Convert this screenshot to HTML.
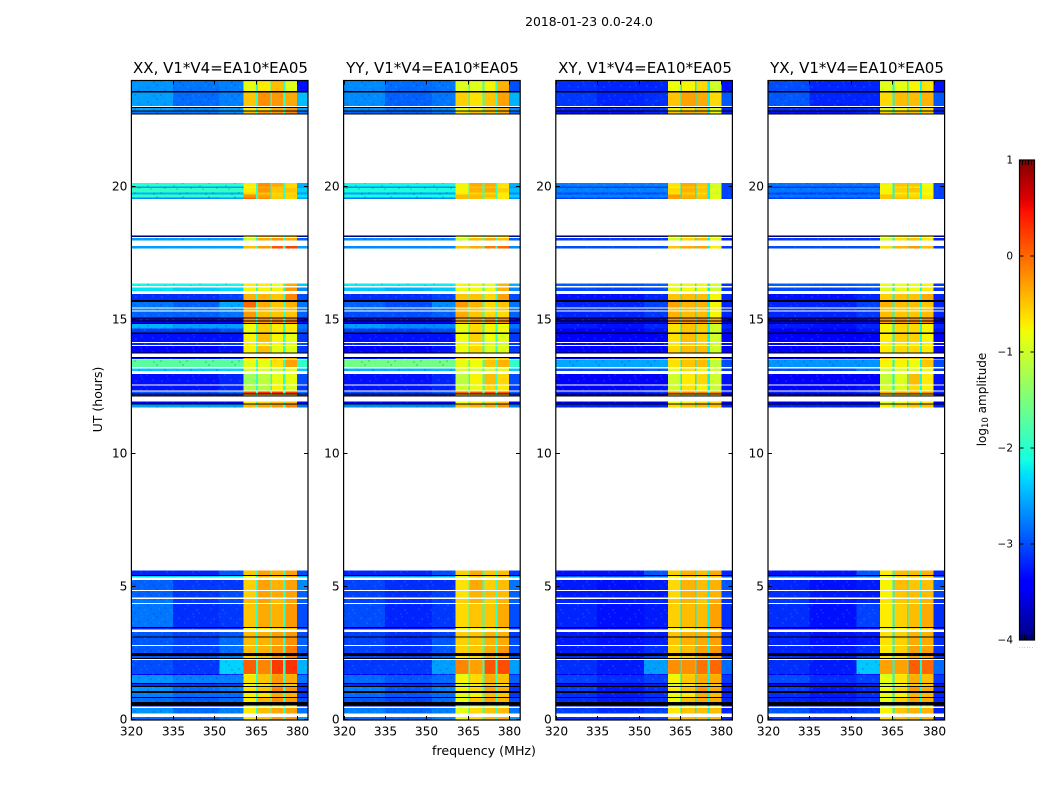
<!DOCTYPE html>
<html lang="en">
<head>
<meta charset="utf-8">
<title>2018-01-23 amplitude waterfall</title>
<style>
html,body{margin:0;padding:0;background:#fff;}
svg{display:block;}
text{font-family:"DejaVu Sans","Liberation Sans",sans-serif;fill:#000;}
</style>
</head>
<body>
<svg id="figure" xmlns="http://www.w3.org/2000/svg" width="1050" height="800" viewBox="0 0 1050 800" shape-rendering="crispEdges">
<defs>
<pattern id="speckle" width="26" height="14" patternUnits="userSpaceOnUse">
<rect x="0" y="0" width="2" height="2" fill="#00108a" fill-opacity="0.16"/>
<rect x="5" y="2" width="2" height="2" fill="#30e0ff" fill-opacity="0.14"/>
<rect x="11" y="0" width="2" height="2" fill="#30e0ff" fill-opacity="0.10"/>
<rect x="17" y="3" width="2" height="2" fill="#00108a" fill-opacity="0.14"/>
<rect x="22" y="1" width="2" height="2" fill="#30e0ff" fill-opacity="0.12"/>
<rect x="2" y="6" width="2" height="2" fill="#30e0ff" fill-opacity="0.12"/>
<rect x="8" y="5" width="2" height="2" fill="#00108a" fill-opacity="0.16"/>
<rect x="14" y="7" width="2" height="2" fill="#30e0ff" fill-opacity="0.14"/>
<rect x="20" y="6" width="2" height="2" fill="#00108a" fill-opacity="0.12"/>
<rect x="4" y="10" width="2" height="2" fill="#00108a" fill-opacity="0.14"/>
<rect x="10" y="11" width="2" height="2" fill="#30e0ff" fill-opacity="0.12"/>
<rect x="16" y="10" width="2" height="2" fill="#30e0ff" fill-opacity="0.10"/>
<rect x="23" y="11" width="2" height="2" fill="#00108a" fill-opacity="0.16"/>
</pattern>
<linearGradient id="jet-gradient" x1="0" y1="1" x2="0" y2="0"></linearGradient>
</defs>
<rect width="1050" height="800" fill="#fff"/>
<g id="panels"></g>
<g id="colorbar"></g>
<g shape-rendering="auto">
<text x="589" y="26" font-size="12.4" text-anchor="middle">2018-01-23 0.0-24.0</text>
<text x="220.5" y="73" font-size="15" text-anchor="middle">XX, V1*V4=EA10*EA05</text>
<text x="432.5" y="73" font-size="15" text-anchor="middle">YY, V1*V4=EA10*EA05</text>
<text x="645" y="73" font-size="15" text-anchor="middle">XY, V1*V4=EA10*EA05</text>
<text x="857" y="73" font-size="15" text-anchor="middle">YX, V1*V4=EA10*EA05</text>
<text transform="translate(102,399.5) rotate(-90)" font-size="12.5" text-anchor="middle">UT (hours)</text>
<text x="484" y="755" font-size="12.6" text-anchor="middle">frequency (MHz)</text>
<text transform="translate(986,399.5) rotate(-90)" font-size="12" text-anchor="middle">log<tspan font-size="8.5" dy="2">10</tspan><tspan dy="-2"> amplitude</tspan></text>
</g>
</svg>
<script>
// Time ranges (hours UT) of each observed band, bottom to top
const bandStart = [0,.25,.5,.68,.87,1.08,1.28,1.39,1.68,1.72,2.33,2.51,2.81,3.13,3.4,3.49,4.4,4.59,4.88,5.34,5.45,11.72,11.88,12.17,12.25,12.37,12.59,13.09,13.24,13.54,13.8,14.07,14.19,14.54,14.7,14.9,15,15.11,15.37,15.48,15.77,16.1,16.28,17.7,18,18.12,19.55,19.6,19.72,19.8,19.97,20.03,22.76,22.88,23.05,23.6];
const bandEnd = [.12,.45,.55,.84,1.01,1.25,1.35,1.68,1.72,2.25,2.4,2.77,3.1,3.3,3.45,4.36,4.54,4.84,5.25,5.43,5.62,11.84,11.96,12.22,12.32,12.55,12.98,13.2,13.52,13.6,14.04,14.14,14.48,14.7,14.87,15,15.08,15.33,15.44,15.69,15.99,16.23,16.38,17.78,18.09,18.15,19.6,19.72,19.8,19.97,20.03,20.16,22.85,22.97,23.55,24];
// Flagged (black) time ranges, hours UT
const flaggedStart = [.55,.84,1.01,1.25,1.35,2.3,2.4,3.1,3.45,5.43,11.84,12.15,12.22,13.6,13.76,14.48,14.87,14.96,15.08,15.69,18.15,22.72,22.85,22.97,23.55];
const flaggedEnd = [.68,.87,1.08,1.28,1.39,2.33,2.51,3.13,3.49,5.45,11.88,12.17,12.25,13.63,13.8,14.54,14.9,15,15.11,15.77,18.19,22.76,22.88,23,23.6];
// Frequency columns, MHz
const channelStart = [320,335,352,360.6,365.8,371,375.8,380];
const channelEnd = [335,352,360.6,365.2,370.4,375,380,384];
const gapStart = [365.2,370.4,375];
const gapEnd = [365.8,371,375.8];
// log10 amplitude, one row per band, one value per frequency column
const xxLevels = [
[-2.85,-2.85,-2.7,-.7,-.5,-.3,-.25,-2.6],[-2.65,-2.85,-2.75,-.7,-.45,-.35,-.3,-2.8],[-3.5,-3.5,-3.4,-1.2,-1,-.9,-.9,-3.3],[-2.85,-2.95,-2.85,-.7,-.4,-.2,-.25,-3],
[-2.75,-2.85,-2.85,-.75,-.65,-.35,-.4,-3.1],[-2.65,-2.85,-2.75,-.65,-.5,-.15,-.25,-3.1],[-3.15,-3.15,-3.1,-.8,-.65,-.4,-.5,-3.2],[-2.65,-2.75,-2.75,-.65,-.5,-.25,-.35,-2.8],
[-3.4,-3.4,-3.2,-.8,-.5,-.35,-.45,-3.2],[-3,-3.1,-2.35,.05,-.15,.25,.3,-2.5],[-2.95,-2.95,-2.75,-.55,-.5,-.25,-.15,-2.9],[-2.95,-3.05,-2.85,-.45,-.4,-.25,-.1,-2.9],
[-2.95,-3.05,-2.85,-.45,-.4,-.3,-.2,-2.9],[-2.95,-3.05,-2.95,-.45,-.4,-.3,-.25,-3],[-3.2,-3.2,-3.2,-.75,-.65,-.6,-.5,-3.1],[-2.8,-3.15,-3.1,-.5,-.35,-.4,-.25,-3],
[-2.8,-3.1,-3,-.45,-.3,-.45,-.3,-2.9],[-2.9,-3.1,-3,-.55,-.3,-.35,-.3,-2.9],[-2.9,-3.1,-3.1,-.55,-.3,-.4,-.3,-2.7],[-2.3,-2.3,-2.2,-.8,-.4,-.5,-.4,-2.4],
[-3.2,-3.2,-2.95,-.5,-.3,-.4,-.3,-3],[-2.6,-2.6,-2.6,-.45,-.35,-.25,-.15,-2.8],[-3.5,-3.5,-3.5,-.7,-.6,-.5,-.45,-3.4],[-3.2,-3.2,-3.2,-.45,-.45,-.35,-.35,-3],
[-2.9,-2.9,-2.8,.2,.3,.3,.25,-2.8],[-3.3,-3.3,-3.2,-1.15,-1.15,-.75,-.95,-3.1],[-3.3,-3.3,-3.2,-1.3,-1.1,-.85,-.85,-3],[-2.4,-2.4,-2.35,-.95,-.95,-1.05,-.85,-2.4],
[-1.7,-1.7,-1.7,-.85,-.85,-.65,-.3,-1.95],[-3.3,-3.3,-3.2,-.35,-.25,-.35,-.35,-3],[-3.4,-3.4,-3.3,-.75,-.45,-.85,-.9,-3.1],[-3.2,-3.2,-3.1,-.7,-.65,-.8,-.9,-3],
[-3.3,-3.3,-3.3,-.75,-.45,-.75,-.85,-3.1],[-3.1,-3.1,-3,-.8,-.55,-.7,-.7,-2.9],[-2.5,-2.6,-2.6,-.8,-.55,-.7,-.7,-2.8],[-3.5,-3.5,-3.4,-.3,-.25,-.15,-.15,-3.3],
[-3.6,-3.6,-3.5,-.25,-.15,-.1,-.1,-3.4],[-2.9,-2.9,-2.8,-.25,-.45,-.5,-.5,-2.9],[-2.7,-2.8,-2.7,-.45,-.45,-.5,-.45,-2.8],[-2.8,-2.9,-2.55,0,-.35,-.5,-.4,-2.8],
[-3.15,-3.15,-3.05,-.4,-.4,-.5,-.15,-3],[-2.25,-2.35,-2.3,-.75,-.75,-.75,-.25,-2.7],[-2.15,-2.15,-2.15,-.7,-.7,-.8,-.35,-2.4],[-2.6,-2.6,-2.6,-.45,-.25,.1,.2,-2.6],
[-2.6,-2.6,-2.6,-1,-.35,-.25,-.35,-2.9],[-3.5,-3.5,-3.4,-.8,-.5,-.4,-.4,-3.3],[-2.7,-2.7,-2.6,0,-.2,-.5,-.6,-2.6],[-1.95,-1.95,-1.95,-.2,-.3,-.55,-.55,-2.25],
[-2.5,-2.5,-2.5,-.6,-.5,-.6,-.6,-2.6],[-1.95,-1.95,-1.95,-.7,-.25,-.5,-.5,-2.35],[-2.6,-2.6,-2.6,-.8,-.35,-.5,-.6,-2.6],[-2,-2,-2,-.7,-.2,-.35,-.6,-2.5],
[-2.8,-2.8,-2.7,-.45,-.25,-.25,-.15,-2.8],[-2.6,-2.7,-2.6,-.7,-.6,-.35,-.25,-2.6],[-2.6,-2.85,-2.75,-.5,-.2,-.25,-.35,-2.45],[-2.65,-2.8,-2.75,-.85,-.7,-.45,-.9,-3.3]];
const yyLevels = [
[-2.85,-2.85,-2.7,-.8,-.6,-.45,-.4,-2.6],[-2.75,-2.85,-2.75,-.85,-.6,-.5,-.45,-2.8],[-3.5,-3.5,-3.4,-1.3,-1.1,-1,-1,-3.3],[-2.95,-3.05,-2.85,-.85,-.5,-.3,-.4,-3],
[-2.85,-2.95,-2.85,-.85,-.75,-.45,-.5,-3.1],[-2.75,-2.95,-2.75,-.75,-.6,-.3,-.4,-3.1],[-3.2,-3.2,-3.1,-.95,-.75,-.5,-.6,-3.2],[-2.85,-2.95,-2.85,-.75,-.6,-.35,-.45,-2.9],
[-3.4,-3.4,-3.2,-.95,-.6,-.45,-.55,-3.2],[-3.1,-3.1,-2.6,-.15,-.3,.1,.15,-2.6],[-3.05,-3.05,-2.85,-.65,-.6,-.35,-.35,-3],[-3.05,-3.15,-2.95,-.55,-.5,-.35,-.25,-3],
[-3.05,-3.15,-2.95,-.55,-.5,-.4,-.35,-3],[-3.05,-3.15,-3.05,-.55,-.5,-.4,-.4,-3.1],[-3.3,-3.3,-3.2,-.85,-.75,-.7,-.6,-3.1],[-3,-3.2,-3.1,-.6,-.5,-.5,-.35,-3],
[-3.05,-3.15,-3.05,-.55,-.4,-.55,-.4,-2.9],[-3.05,-3.15,-3.05,-.65,-.4,-.45,-.45,-2.9],[-3.05,-3.15,-3.15,-.65,-.35,-.55,-.45,-2.8],[-2.6,-2.6,-2.5,-.85,-.5,-.6,-.5,-2.5],
[-3.2,-3.2,-3,-.55,-.35,-.5,-.45,-3.1],[-2.7,-2.7,-2.7,-.5,-.4,-.35,-.25,-2.8],[-3.5,-3.5,-3.5,-.8,-.7,-.6,-.5,-3.4],[-3.2,-3.2,-3.2,-.5,-.5,-.45,-.45,-3.1],
[-3,-3,-2.9,.05,.15,.15,.1,-2.9],[-3.3,-3.3,-3.2,-1,-.85,-.6,-.7,-3.1],[-3.3,-3.3,-3.2,-1.1,-.75,-.45,-.6,-3],[-2.5,-2.5,-2.45,-.95,-.95,-.95,-.85,-2.4],
[-1.55,-1.55,-1.55,-.85,-.8,-.5,-.4,-1.95],[-3.3,-3.3,-3.2,-.4,-.35,-.4,-.45,-3.1],[-3.4,-3.4,-3.3,-.8,-.6,-.9,-.9,-3.1],[-3.2,-3.2,-3.1,-.8,-.7,-.9,-1,-3.1],
[-3.3,-3.3,-3.3,-.8,-.55,-.8,-.9,-3.1],[-3.1,-3.1,-3,-.85,-.6,-.75,-.8,-3],[-2.6,-2.7,-2.7,-.85,-.6,-.75,-.8,-2.8],[-3.5,-3.5,-3.4,-.4,-.35,-.25,-.25,-3.3],
[-3.6,-3.6,-3.5,-.35,-.25,-.15,-.15,-3.4],[-3,-3,-2.9,-.35,-.5,-.6,-.6,-2.9],[-2.8,-2.9,-2.8,-.5,-.5,-.6,-.5,-2.8],[-2.9,-3,-2.7,-.25,-.4,-.6,-.5,-2.8],
[-3.15,-3.15,-3.05,-.5,-.5,-.6,-.3,-3],[-2.4,-2.5,-2.4,-.8,-.8,-.8,-.4,-2.7],[-2.2,-2.2,-2.2,-.75,-.75,-.85,-.4,-2.5],[-2.7,-2.7,-2.7,-.5,-.35,-.1,0,-2.7],
[-2.7,-2.7,-2.7,-1,-.45,-.35,-.45,-2.9],[-3.5,-3.5,-3.4,-.9,-.6,-.5,-.5,-3.3],[-2.8,-2.8,-2.7,-.45,-.45,-.6,-.7,-2.7],[-2.1,-2.1,-2.1,-.45,-.45,-.45,-.7,-2.35],
[-2.6,-2.6,-2.6,-.7,-.6,-.6,-.7,-2.7],[-2.1,-2.1,-2.1,-.75,-.4,-.35,-.55,-2.45],[-2.7,-2.7,-2.7,-.9,-.5,-.5,-.7,-2.7],[-2.15,-2.15,-2.15,-.75,-.35,-.35,-.65,-2.5],
[-2.9,-2.9,-2.8,-.6,-.45,-.45,-.35,-2.9],[-2.7,-2.8,-2.7,-.8,-.7,-.5,-.4,-2.7],[-2.7,-2.9,-2.8,-.55,-.65,-.5,-.3,-2.5],[-2.7,-2.85,-2.8,-.9,-.9,-.75,-.4,-3]];
const xyLevels = [
[-3.15,-3.15,-3.05,-.55,-.45,-.45,-.45,-3.2],[-3.05,-3.15,-3.05,-.7,-.5,-.45,-.45,-3.2],[-3.6,-3.6,-3.5,-1.2,-1,-.9,-.9,-3.6],[-3.15,-3.25,-3.15,-.8,-.45,-.35,-.35,-3.2],
[-3.15,-3.25,-3.15,-.8,-.7,-.35,-.45,-3.2],[-3.05,-3.25,-3.15,-.7,-.5,-.25,-.35,-3.2],[-3.35,-3.35,-3.25,-.9,-.7,-.5,-.5,-3.3],[-3.05,-3.15,-3.05,-.75,-.5,-.35,-.35,-3.1],
[-3.5,-3.5,-3.3,-.9,-.6,-.45,-.45,-3.3],[-3.15,-3.25,-2.6,-.2,-.2,-.05,0,-2.85],[-3.15,-3.25,-3.05,-.6,-.55,-.35,-.25,-3.15],[-3.25,-3.25,-3.15,-.55,-.45,-.3,-.25,-3.15],
[-3.25,-3.3,-3.25,-.5,-.4,-.35,-.3,-3.15],[-3.25,-3.3,-3.25,-.5,-.4,-.4,-.35,-3.2],[-3.4,-3.4,-3.3,-.8,-.7,-.6,-.5,-3.3],[-3.2,-3.3,-3.25,-.55,-.45,-.45,-.3,-3.15],
[-3.2,-3.25,-3.2,-.5,-.4,-.5,-.35,-3.15],[-3.25,-3.25,-3.25,-.6,-.4,-.45,-.4,-3.05],[-3.25,-3.3,-3.25,-.6,-.4,-.45,-.4,-2.95],[-2.9,-2.95,-2.85,-.75,-.5,-.55,-.5,-3],
[-3.3,-3.3,-2.95,-.55,-.4,-.45,-.35,-3.2],[-3.2,-3.2,-3.2,-.65,-.5,-.45,-.45,-3.2],[-3.6,-3.6,-3.6,-.8,-.75,-.6,-.6,-3.6],[-3.4,-3.4,-3.4,-.6,-.5,-.5,-.5,-3.4],
[-3.2,-3.2,-3.1,-.15,-.1,-.1,-.15,-3.2],[-3.4,-3.4,-3.3,-1,-.65,-.75,-1.05,-3.3],[-3.45,-3.45,-3.4,-1,-.7,-.6,-1,-3.3],[-3,-3,-2.9,-.85,-.65,-.75,-1,-3.1],
[-2.55,-2.55,-2.55,-.65,-.5,-.45,-1.1,-3],[-3.4,-3.4,-3.3,-.4,-.35,-.35,-.6,-3.3],[-3.45,-3.45,-3.4,-.6,-.45,-.45,-1,-3.4],[-3.4,-3.4,-3.3,-.7,-.55,-.6,-1,-3.3],
[-3.45,-3.45,-3.4,-.65,-.45,-.55,-1,-3.4],[-3.4,-3.4,-3.3,-.65,-.5,-.55,-1,-3.3],[-3.25,-3.3,-3.2,-.65,-.5,-.55,-1,-3.2],[-3.7,-3.7,-3.6,-.3,-.25,-.2,-.35,-3.6],
[-3.7,-3.7,-3.6,-.25,-.2,-.15,-.35,-3.6],[-3.2,-3.2,-3.1,-.4,-.45,-.45,-.75,-3.2],[-3.1,-3.1,-3.1,-.5,-.45,-.5,-.75,-3.1],[-3.2,-3.2,-3.05,-.3,-.4,-.4,-.75,-3.2],
[-3.3,-3.3,-3.2,-.5,-.45,-.45,-.75,-3.2],[-3,-3.05,-3,-.85,-.8,-.8,-1,-3.1],[-2.9,-2.95,-2.9,-.8,-.75,-.75,-1,-3.1],[-3,-3,-3,-.5,-.35,-.3,-.7,-3.1],
[-3.1,-3.1,-3.1,-.95,-.6,-.45,-.9,-3.2],[-3.5,-3.5,-3.5,-.8,-.6,-.6,-.8,-3.4],[-3.1,-3.1,-3.05,-.3,-.35,-.45,-.85,-3.1],[-2.75,-2.75,-2.75,-.25,-.4,-.5,-.9,-3.05],
[-3,-3,-3,-.65,-.55,-.6,-1,-3.05],[-2.75,-2.75,-2.75,-.6,-.4,-.5,-.9,-3.05],[-3.05,-3.05,-3.05,-.75,-.5,-.6,-1,-3.05],[-2.75,-2.75,-2.75,-.65,-.35,-.5,-.95,-3.05],
[-3.3,-3.3,-3.2,-.5,-.35,-.4,-.75,-3.2],[-3.2,-3.2,-3.15,-.75,-.6,-.5,-.9,-3.2],[-3.1,-3.2,-3.15,-.5,-.3,-.35,-.6,-2.95],[-3.15,-3.2,-3.2,-.8,-.75,-.6,-1,-3.3]];
const yxLevels = [
[-3.1,-3.15,-3.05,-.65,-.5,-.45,-.45,-3.2],[-2.95,-3.1,-3.05,-.75,-.5,-.4,-.4,-3.2],[-3.6,-3.6,-3.5,-1.3,-1.1,-1,-1,-3.6],[-3.2,-3.25,-3.15,-.85,-.55,-.3,-.35,-3.2],
[-3.15,-3.25,-3.15,-.85,-.75,-.4,-.45,-3.2],[-3.05,-3.25,-3.15,-.8,-.6,-.25,-.35,-3.2],[-3.35,-3.35,-3.25,-1,-.8,-.5,-.5,-3.3],[-3,-3.15,-3.05,-.85,-.65,-.35,-.45,-3.1],
[-3.5,-3.5,-3.3,-1,-.7,-.45,-.5,-3.3],[-3.15,-3.25,-2.4,-.3,-.3,.05,0,-2.85],[-3.15,-3.25,-3.05,-.7,-.6,-.3,-.3,-3.15],[-3.2,-3.25,-3.15,-.7,-.55,-.3,-.3,-3.15],
[-3.2,-3.3,-3.25,-.65,-.55,-.35,-.35,-3.15],[-3.2,-3.3,-3.25,-.65,-.55,-.4,-.4,-3.2],[-3.4,-3.4,-3.3,-.9,-.8,-.6,-.6,-3.3],[-3.15,-3.3,-3.05,-.7,-.55,-.45,-.35,-3.15],
[-3.1,-3.25,-3.2,-.65,-.5,-.5,-.4,-3.15],[-3.15,-3.25,-3.25,-.75,-.5,-.45,-.45,-3.05],[-3.2,-3.3,-3.25,-.75,-.45,-.5,-.45,-2.95],[-2.9,-2.95,-2.85,-.9,-.6,-.5,-.5,-3],
[-3.3,-3.3,-2.95,-.7,-.45,-.45,-.4,-3.2],[-3.2,-3.2,-3.2,-.75,-.6,-.5,-.5,-3.2],[-3.6,-3.6,-3.6,-.9,-.8,-.7,-.7,-3.6],[-3.4,-3.4,-3.4,-.7,-.6,-.6,-.6,-3.4],
[-3.2,-3.2,-3.1,-.3,-.25,-.2,-.2,-3.2],[-3.4,-3.4,-3.3,-.95,-.9,-.6,-.75,-3.3],[-3.45,-3.45,-3.4,-1.05,-.9,-.45,-.7,-3.3],[-3,-3,-2.8,-1,-.9,-.85,-.85,-3.1],
[-2.65,-2.65,-2.65,-.75,-.75,-.8,-.5,-3],[-3.4,-3.4,-3.3,-.4,-.4,-.45,-.4,-3.3],[-3.45,-3.45,-3.4,-.7,-.6,-.6,-.7,-3.4],[-3.4,-3.4,-3.3,-.75,-.7,-.75,-.75,-3.3],
[-3.45,-3.45,-3.4,-.7,-.55,-.55,-.75,-3.4],[-3.4,-3.4,-3.3,-.75,-.6,-.6,-.75,-3.3],[-3.25,-3.3,-3.2,-.75,-.6,-.6,-.75,-3.2],[-3.7,-3.7,-3.6,-.3,-.25,-.2,-.2,-3.6],
[-3.7,-3.7,-3.6,-.25,-.2,-.2,-.15,-3.6],[-3.2,-3.2,-3.1,-.45,-.5,-.5,-.45,-3.2],[-3.1,-3.1,-3.1,-.55,-.55,-.55,-.5,-3.1],[-3.2,-3.2,-3.05,-.4,-.45,-.45,-.5,-3.2],
[-3.3,-3.3,-3.2,-.55,-.5,-.5,-.35,-3.2],[-3,-3.05,-3,-.9,-.85,-.8,-.7,-3.1],[-2.9,-2.95,-2.9,-.85,-.8,-.85,-.75,-3.1],[-3,-3,-3,-.6,-.4,-.25,-.45,-3.1],
[-3.1,-3.1,-3.1,-1,-.65,-.5,-.7,-3.2],[-3.5,-3.5,-3.5,-.9,-.7,-.6,-.7,-3.4],[-3.1,-3.1,-3.05,-.5,-.45,-.5,-.65,-3.1],[-2.8,-2.8,-2.8,-.5,-.55,-.6,-.7,-3.05],
[-3.05,-3.05,-3.05,-.75,-.7,-.7,-.8,-3.05],[-2.8,-2.8,-2.8,-.75,-.55,-.5,-.75,-3.05],[-3.1,-3.1,-3.1,-.85,-.65,-.7,-.85,-3.05],[-2.8,-2.8,-2.8,-.75,-.5,-.5,-.8,-3.05],
[-3.3,-3.3,-3.2,-.55,-.45,-.45,-.5,-3.2],[-3.15,-3.2,-3.15,-.85,-.75,-.6,-.6,-3.2],[-2.95,-3.2,-3.2,-.6,-.45,-.45,-.4,-2.95],[-3,-3.2,-3.2,-.9,-.85,-.75,-.65,-3.3]];
// Spectral-gap level per panel (log10 amplitude)
const gapLevels = [-1.95,-1.9,-2.2,-2.15];
// Axis ticks
const freqTicks = [320,335,350,365,380];
const hourTicks = [0,5,10,15,20];
const cbarTicks = [1,0,-1,-2,-3,-4];
const cbarMinorTicks = [-3.94,-3.88,-3.82,-3.76,-3.7,.76,.82,.88,.94];

const panelLevels = [xxLevels, yyLevels, xyLevels, yxLevels];
const panelKeys = ['xx','yy','xy','yx'];
const SVGNS = 'http://www.w3.org/2000/svg';
const FREQ_MIN = 320, FREQ_MAX = 384, HOUR_MIN = 0, HOUR_MAX = 24;
const PLOT_TOP = 80.5, PLOT_BOTTOM = 720, PLOT_WIDTH = 176.6, PANEL_LEFT = 131.4, PANEL_STEP = 212.2;
const CBAR_LEFT = 1019.5, CBAR_RIGHT = 1034.5, CBAR_TOP = 160, CBAR_BOTTOM = 640, V_MIN = -4, V_MAX = 1;

function yScale(h){ return PLOT_BOTTOM - (h - HOUR_MIN) / (HOUR_MAX - HOUR_MIN) * (PLOT_BOTTOM - PLOT_TOP); }
function xScale(f, left){ return left + (f - FREQ_MIN) / (FREQ_MAX - FREQ_MIN) * PLOT_WIDTH; }
function cScale(v){ return CBAR_BOTTOM - (v - V_MIN) / (V_MAX - V_MIN) * (CBAR_BOTTOM - CBAR_TOP); }

function lerpSeg(t, pts){
  for (let i = 1; i < pts.length; i++){
    if (t <= pts[i][0]){
      const a = pts[i-1], b = pts[i];
      return a[1] + (t - a[0]) / (b[0] - a[0]) * (b[1] - a[1]);
    }
  }
  return pts[pts.length-1][1];
}
const JET_R = [[0,0],[.35,0],[.66,1],[.89,1],[1,.5]];
const JET_G = [[0,0],[.125,0],[.375,1],[.64,1],[.91,0],[1,0]];
const JET_B = [[0,.5],[.11,1],[.34,1],[.65,0],[1,0]];
function jet(t){
  t = Math.max(0, Math.min(1, t));
  return 'rgb(' + Math.round(255*lerpSeg(t,JET_R)) + ',' + Math.round(255*lerpSeg(t,JET_G)) + ',' + Math.round(255*lerpSeg(t,JET_B)) + ')';
}
function colorOf(v){ return jet((v - V_MIN) / (V_MAX - V_MIN)); }
function make(tag, parent, attrs){
  const e = document.createElementNS(SVGNS, tag);
  for (const k in attrs) e.setAttribute(k, attrs[k]);
  parent.appendChild(e);
  return e;
}

const panelsG = document.getElementById('panels');
panelLevels.forEach(function(levels, p){
  const left = PANEL_LEFT + p * PANEL_STEP;
  const key = panelKeys[p];
  const g = make('g', panelsG, {});
  
  

  bandStart.forEach(function(start, b){
    const y0 = yScale(bandEnd[b]), y1 = yScale(start);
    channelStart.forEach(function(fs, c){
      const x0 = xScale(fs, left), x1 = xScale(channelEnd[c], left);
      const cell = make('rect', g, {x:x0, y:y0, width:x1-x0, height:y1-y0, fill:colorOf(levels[b][c])});
      
      
    });
    gapStart.forEach(function(fs, c){
      const x0 = xScale(fs, left), x1 = xScale(gapEnd[c], left);
      const gap = make('rect', g, {x:x0, y:y0, width:x1-x0, height:y1-y0, fill:colorOf(gapLevels[p])});
      
      
    });
    const texEnd = xScale(channelEnd[2], left);
    const tex = make('rect', g, {x:left, y:y0, width:texEnd-left, height:y1-y0, fill:'url(#speckle)'});
    
    
  });

  flaggedStart.forEach(function(start, f){
    const y0 = yScale(flaggedEnd[f]), y1 = yScale(start);
    const line = make('rect', g, {x:left, y:y0, width:PLOT_WIDTH, height:Math.max(y1-y0, 1), fill:'#000'});
    
    
  });

  freqTicks.forEach(function(f){
    const x = Math.round(xScale(f, left)) + .5;
    const t1 = make('line', g, {x1:x, x2:x, y1:PLOT_BOTTOM, y2:PLOT_BOTTOM-4, stroke:'#000'});
    
    
    const t2 = make('line', g, {x1:x, x2:x, y1:PLOT_TOP, y2:PLOT_TOP+4, stroke:'#000'});
    
    
    const lab = make('text', g, {x:x, y:735.5, 'font-size':12.2, 'text-anchor':'middle', 'shape-rendering':'auto'});
    lab.textContent = f;
    
    
  });
  hourTicks.forEach(function(h){
    const y = Math.round(yScale(h)) - .5;
    const t1 = make('line', g, {x1:left, x2:left+4, y1:y, y2:y, stroke:'#000'});
    
    
    const t2 = make('line', g, {x1:left+PLOT_WIDTH, x2:left+PLOT_WIDTH-4, y1:y, y2:y, stroke:'#000'});
    
    
    const lab = make('text', g, {x:left-4, y:y+3.8, 'font-size':12.2, 'text-anchor':'end', 'shape-rendering':'auto'});
    lab.textContent = h;
    
    
  });

  const frame = make('rect', g, {x:left, y:PLOT_TOP, width:PLOT_WIDTH, height:PLOT_BOTTOM-PLOT_TOP, fill:'none', stroke:'#000', 'stroke-width':1.2, 'shape-rendering':'auto'});
  
  
});

// Colorbar
const grad = document.getElementById('jet-gradient');
for (let i = 0; i <= 64; i++){
  const st = make('stop', grad, {offset:(i/64), 'stop-color':jet(i/64)});
}
const cb = document.getElementById('colorbar');
const cbRect = make('rect', cb, {x:CBAR_LEFT, y:CBAR_TOP, width:CBAR_RIGHT-CBAR_LEFT, height:CBAR_BOTTOM-CBAR_TOP, fill:'url(#jet-gradient)', stroke:'#000', 'stroke-width':1.2, 'shape-rendering':'auto'});


cbarTicks.forEach(function(v){
  const y = cScale(v);
  const t1 = make('line', cb, {x1:CBAR_LEFT, x2:CBAR_LEFT+4, y1:y, y2:y, stroke:'#000'});
  
  
  const t2 = make('line', cb, {x1:CBAR_RIGHT, x2:CBAR_RIGHT-4, y1:y, y2:y, stroke:'#000'});
  
  
  const lab = make('text', cb, {x:1013, y:y+3.5, 'font-size':10.5, 'text-anchor':'end', 'shape-rendering':'auto'});
  lab.textContent = String(v).replace('-', '\u2212');
  
  
});
cbarMinorTicks.forEach(function(v){
  const y = v < 0 ? CBAR_BOTTOM : CBAR_TOP;
  const x = CBAR_LEFT + ((v < 0 ? v + 4 : v - .7) / (v < 0 ? .36 : .3)) * (CBAR_RIGHT - CBAR_LEFT);
  const t = make('line', cb, {x1:x, x2:x, y1:y, y2:v < 0 ? y-5 : y+5, stroke:'#000'});
  
  
});
const dots = make('text', cb, {x:1026, y:648, 'font-size':4, 'text-anchor':'middle', fill:'#777', 'shape-rendering':'auto'});
dots.textContent = '. . . . . .';


</script>
</body>
</html>
